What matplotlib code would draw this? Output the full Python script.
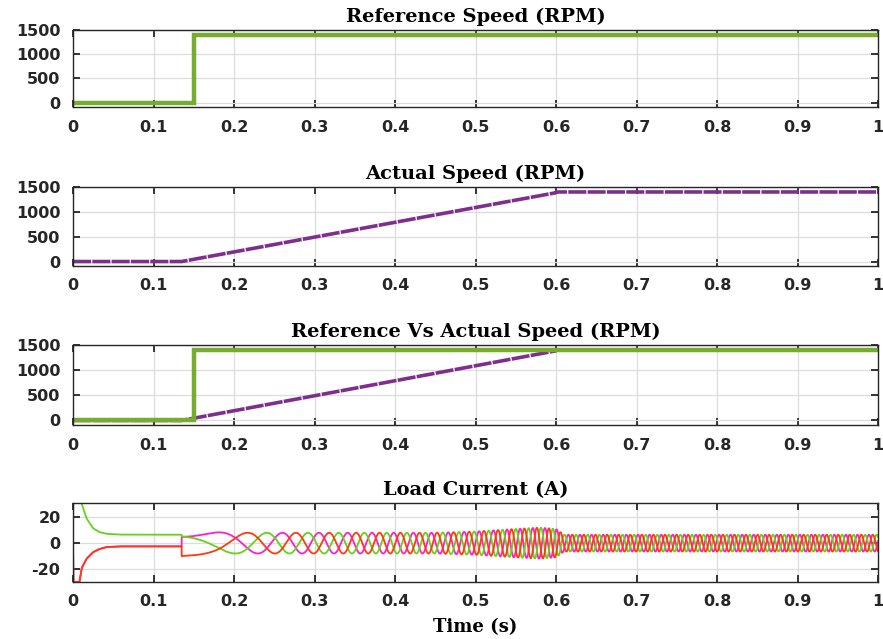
import numpy as np
import matplotlib
matplotlib.use("Agg")
import matplotlib.pyplot as plt
from matplotlib.font_manager import FontProperties

# ---------------- data ----------------
ref_t = [0.0, 0.15, 0.15, 1.0]
ref_rpm = [0, 0, 1400, 1400]

act_t = [0.0, 0.135, 0.6, 0.6, 1.0]
act_rpm = [0, 0, 1385, 1400, 1400]

# load current, start-up transient (before inverter switches on)
pre_t = [0.0, 0.0005, 0.004, 0.008, 0.011, 0.017, 0.025, 0.033, 0.042, 0.06, 0.135]
pre_green = [0, 45, 40, 34, 30, 19, 11.5, 8.5, 7.2, 6.6, 6.5]
pre_red = [0, -30, -30, -30, -19, -12, -7, -4.5, -3, -2.5, -2.5]

# amplitude envelope of the three-phase current after 0.135 s
env_t = [0.135, 0.17, 0.2, 0.45, 0.5, 0.55, 0.58, 0.6, 0.61, 1.0]
env_amp = [10, 8.5, 8, 8, 9, 11, 12, 11, 6.5, 6.5]
pole_pairs = 3
t_on = 0.135

x_ticks = [0, 0.1, 0.2, 0.3, 0.4, 0.5, 0.6, 0.7, 0.8, 0.9, 1]
x_labels = ["0", "0.1", "0.2", "0.3", "0.4", "0.5", "0.6", "0.7", "0.8", "0.9", "1"]
speed_ticks = [0, 500, 1000, 1500]
cur_ticks = [-20, 0, 20]

titles = ["Reference Speed (RPM)", "Actual Speed (RPM)",
          "Reference Vs Actual Speed (RPM)", "Load Current (A)"]

# ---------------- build current waveform ----------------
dt = 5e-5
tt = np.arange(t_on, 1.0 + dt, dt)
spd = np.interp(tt, act_t[:3] + [1.0], act_rpm[:3] + [1400])
freq = pole_pairs * spd / 60.0
theta = np.cumsum(2 * np.pi * freq) * dt
amp = np.interp(tt, env_t, env_amp)
i_red = -amp * np.cos(theta)
i_green = -amp * np.cos(theta - 2 * np.pi / 3)
i_pink = -amp * np.cos(theta + 2 * np.pi / 3)

t_pre = np.array(pre_t)
t_all = np.concatenate([t_pre, tt])
green_all = np.concatenate([pre_green, i_green])
red_all = np.concatenate([pre_red, i_red])
pink_all = np.concatenate([pre_red, i_pink])

# ---------------- figure ----------------
W, H = 883, 639
fig = plt.figure(figsize=(W / 100, H / 100), dpi=100)

left, right = 73 / W, 878 / W
panels = [(30, 107), (187, 266), (345, 425), (503, 582)]
axes = []
for (top, bot) in panels:
    ax = fig.add_axes([left, 1 - bot / H, right - left, (bot - top) / H])
    axes.append(ax)

C_GREEN = "#77AC30"
C_PURPLE = "#7E2F8E"

tick_fp = FontProperties(family="DejaVu Sans", weight="bold", size=11.5)
for k, ax in enumerate(axes):
    ax.set_xlim(0, 1)
    ax.set_xticks(x_ticks)
    ax.set_xticklabels(x_labels, fontproperties=tick_fp)
    ax.grid(True, color="#DCDCDC", lw=0.9)
    ax.set_axisbelow(True)
    ax.tick_params(direction="in", length=5, width=1.3, color="#262626",
                   top=True, right=True, pad=9, labelcolor="#262626")
    for s in ax.spines.values():
        s.set_color("#262626")
        s.set_linewidth(1.0)
    ax.set_title(titles[k], family="DejaVu Serif", weight="bold", size=14, pad=6)

for ax in axes[:3]:
    ax.set_ylim(-90, 1500)
    ax.set_yticks(speed_ticks)
    ax.set_yticklabels([str(v) for v in speed_ticks], fontproperties=tick_fp)

axes[3].set_ylim(-30, 31)
axes[3].set_yticks(cur_ticks)
axes[3].set_yticklabels([str(v) for v in cur_ticks], fontproperties=tick_fp)

# panel 1
axes[0].plot(ref_t, ref_rpm, color=C_GREEN, lw=3.2, solid_joinstyle="miter")
# panel 2
axes[1].plot(act_t, act_rpm, color=C_PURPLE, lw=2.6, ls=(0, (5, 0.35)))
# panel 3
axes[2].plot(act_t, act_rpm, color=C_PURPLE, lw=2.6, ls=(0, (5, 0.35)))
axes[2].plot(ref_t, ref_rpm, color=C_GREEN, lw=3.2, solid_joinstyle="miter")
# panel 4
ax = axes[3]
ax.plot(t_all, pink_all, color="#FF1FC8", lw=1.3)
ax.plot(t_all, green_all, color="#66D11A", lw=1.3)
ax.plot(t_all, red_all, color="#FF3A10", lw=1.3)

ax.set_xlabel("Time (s)", family="DejaVu Serif", weight="bold", size=13, labelpad=6)

fig.savefig("out.png", dpi=100)
